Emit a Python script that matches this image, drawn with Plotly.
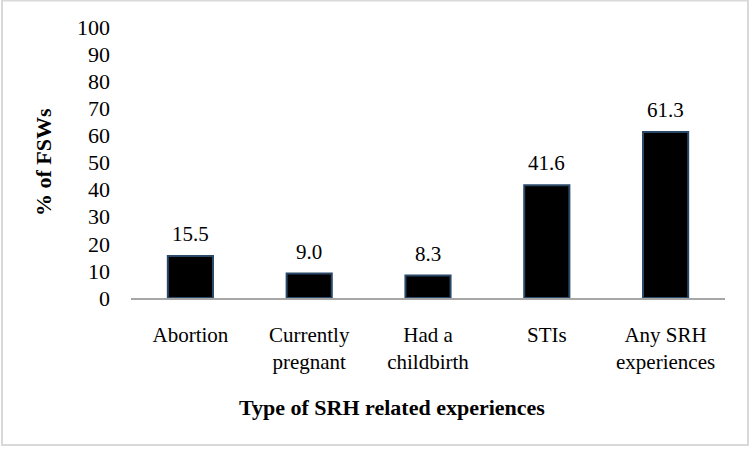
import plotly.graph_objects as go

categories = ["Abortion", "Currently<br>pregnant", "Had a<br>childbirth", "STIs", "Any SRH<br>experiences"]
values = [15.5, 9.0, 8.3, 41.6, 61.3]
value_labels = ["15.5", "9.0", "8.3", "41.6", "61.3"]
y_ticks = [0, 10, 20, 30, 40, 50, 60, 70, 80, 90, 100]

FONT = "'Liberation Serif', 'Times New Roman', serif"

fig = go.Figure()
fig.add_trace(go.Bar(
    x=categories, y=values,
    marker=dict(color="#000000", line=dict(color="#2a4868", width=2)),
    width=0.38,
    hoverinfo="skip",
))

for c, v, t in zip(categories, values, value_labels):
    fig.add_annotation(x=c, y=v, text=t, showarrow=False, yshift=22,
                       xanchor="center", yanchor="middle", font=dict(family=FONT, size=21, color="#000"))

W0, W1 = 131, 725
T0, B0 = 27, 298
pw, ph = W1 - W0, B0 - T0

def px(x):
    return (x - W0) / pw

def py(y):
    return (B0 - y) / ph

fig.add_annotation(xref="paper", yref="paper", x=px(43), y=py(162), text="<b>% of FSWs</b>",
                   textangle=-90, showarrow=False, xanchor="center", yanchor="middle",
                   font=dict(family=FONT, size=22, color="#000"))
fig.add_annotation(xref="paper", yref="paper", x=px(392), y=py(407), text="<b>Type of SRH related experiences</b>",
                   showarrow=False, xanchor="center", yanchor="middle",
                   font=dict(family=FONT, size=22, color="#000"))

fig.add_shape(type="rect", xref="paper", yref="paper",
              x0=px(2), x1=px(748), y0=py(445), y1=py(0.5),
              line=dict(color="#d9d9d9", width=2), fillcolor="rgba(0,0,0,0)", layer="below")

fig.update_layout(
    width=751, height=450,
    margin=dict(l=W0, r=751 - W1, t=T0, b=450 - B0),
    paper_bgcolor="white", plot_bgcolor="white",
    showlegend=False,
    font=dict(family=FONT, size=21, color="#000"),
    xaxis=dict(showline=True, linecolor="#a6a6a6", linewidth=1.5, ticks="", showgrid=False,
               tickfont=dict(family=FONT, size=21, color="#000"), ticklabelstandoff=17),
    yaxis=dict(range=[0, 100], tickvals=y_ticks, showline=False, showgrid=False, zeroline=False,
               ticks="", tickfont=dict(family=FONT, size=22, color="#000"), ticklabelstandoff=20),
)

fig.write_html("out.html", config={"displayModeBar": False},
               post_script="document.body.style.margin='0';")
